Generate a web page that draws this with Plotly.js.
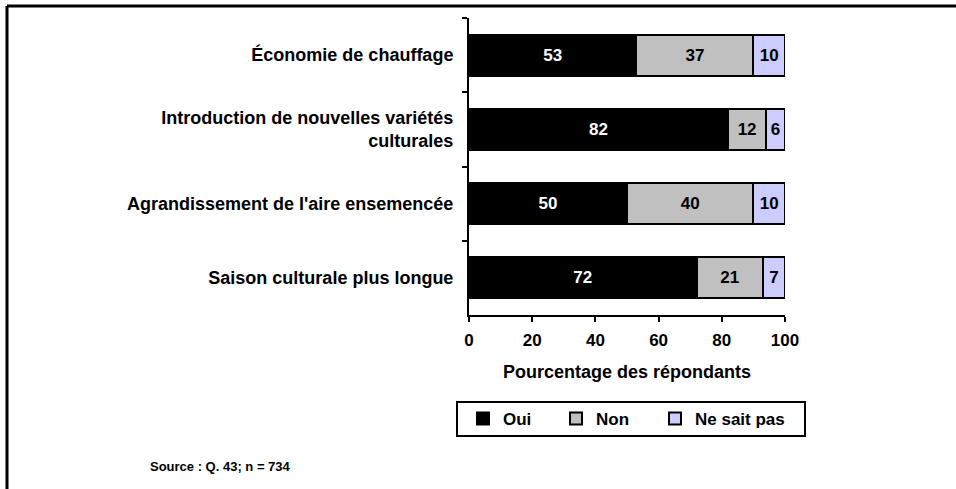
<!DOCTYPE html>
<html>
<head>
<meta charset="utf-8">
<script src="https://cdn.plot.ly/plotly-3.0.1.min.js"></script>
<style>html,body{margin:0;padding:0;background:#fff;}#chart{width:956px;height:489px;}</style>
</head>
<body>
<div id="chart"></div>
<script>
const categories = [
  "Économie de chauffage",
  "Introduction de nouvelles variétés<br>culturales",
  "Agrandissement de l'aire ensemencée",
  "Saison culturale plus longue"
];
const oui = [53, 82, 50, 72];
const non = [37, 12, 40, 21];
const nsp = [10, 6, 10, 7];
const seriesNames = ["Oui", "Non", "Ne sait pas"];
const xTicks = [0, 20, 40, 60, 80, 100];

const FONT = "Liberation Sans, Arial, sans-serif";
const colors = ["#000000", "#c0c0c0", "#ccccff"];
const textColors = ["#ffffff", "#000000", "#000000"];
const vals = [oui, non, nsp];
const legendIds = ["legend", "legend2", "legend3"];

const W = 956, H = 489, L = 469, R = 171, T = 18, B = 174;
const pw = W - L - R, ph = H - T - B;
const px = x => (x - L) / pw;
const py = y => (H - B - y) / ph;

const traces = vals.map((v, i) => ({
  type: "bar",
  orientation: "h",
  name: seriesNames[i],
  legend: legendIds[i],
  y: categories,
  x: v,
  text: v.map(String),
  textposition: "inside",
  insidetextanchor: "middle",
  textangle: 0,
  constraintext: "none",
  textfont: {family: FONT, size: 17, color: textColors[i], weight: "bold"},
  marker: {color: colors[i], line: {color: "#000", width: 2}},
  width: 0.55,
  hoverinfo: "none"
}));

function leg(xPix) {
  return {
    orientation: "h",
    x: px(xPix), y: py(419), xanchor: "left", yanchor: "middle",
    borderwidth: 0, bgcolor: "rgba(0,0,0,0)",
    font: {family: FONT, size: 17, weight: "bold"},
    itemclick: false, itemdoubleclick: false
  };
}

const layout = {
  width: W, height: H,
  margin: {l: L, r: R, t: T, b: B},
  barmode: "stack",
  paper_bgcolor: "#fff",
  plot_bgcolor: "#fff",
  showlegend: true,
  font: {family: FONT, size: 17, color: "#000"},
  xaxis: {
    range: [0, 100],
    tickvals: xTicks,
    ticktext: xTicks.map(String),
    showgrid: false,
    zeroline: false,
    showline: true, linecolor: "#000", linewidth: 2,
    ticks: "outside", ticklen: 5, tickwidth: 2, tickcolor: "#000",
    ticklabelstandoff: 4,
    tickfont: {family: FONT, size: 17, weight: "bold"},
    title: {text: "<b>Pourcentage des répondants</b>", font: {family: FONT, size: 18}, standoff: 16},
    fixedrange: true
  },
  yaxis: {
    type: "category",
    autorange: "reversed",
    showgrid: false,
    zeroline: false,
    showline: true, linecolor: "#000", linewidth: 2,
    ticks: "outside", ticklen: 5, tickwidth: 2, tickcolor: "#000",
    tickson: "boundaries",
    ticklabelstandoff: 10,
    tickfont: {family: FONT, size: 18, weight: "bold"},
    fixedrange: true
  },
  legend: leg(463),
  legend2: leg(556),
  legend3: leg(655),
  shapes: [
    {type: "line", xref: "paper", yref: "paper", x0: px(7), x1: px(1000), y0: py(6), y1: py(6), line: {color: "#000", width: 3}},
    {type: "line", xref: "paper", yref: "paper", x0: px(7), x1: px(7), y0: py(6), y1: py(500), line: {color: "#000", width: 3}},
    {type: "rect", xref: "paper", yref: "paper", x0: px(457), x1: px(805), y0: py(402), y1: py(436), line: {color: "#000", width: 2}, fillcolor: "rgba(0,0,0,0)"}
  ],
  annotations: [
    {xref: "paper", yref: "paper", x: px(148), y: py(466), xanchor: "left", yanchor: "middle",
     text: "<b>Source : Q. 43; n = 734</b>", showarrow: false, font: {family: FONT, size: 13}}
  ]
};

Plotly.newPlot("chart", traces, layout, {displayModeBar: false, staticPlot: true});
</script>
</body>
</html>
